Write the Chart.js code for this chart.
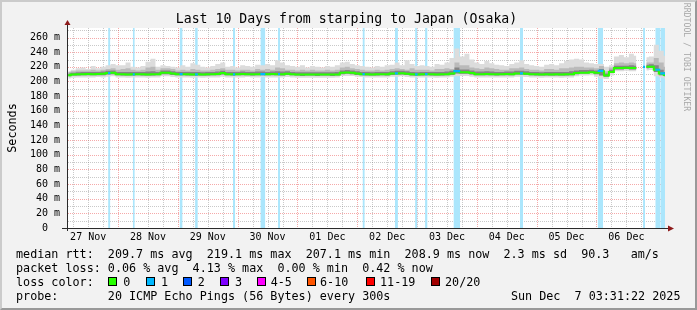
<!DOCTYPE html>
<html>
<head>
<meta charset="utf-8">
<script src="https://cdn.jsdelivr.net/npm/chart.js@4/dist/chart.umd.min.js"></script>
<style>
html,body{margin:0;padding:0;background:#f2f2f2;width:697px;height:310px;overflow:hidden;}
#frame{position:absolute;left:0;top:0;width:697px;height:310px;box-sizing:border-box;background:#f2f2f2;
  border-top:2px solid #cbcbcb;border-left:2px solid #cbcbcb;border-bottom:2px solid #999;border-right:2px solid #999;}
#c{position:absolute;left:0;top:0;}
.t{position:absolute;font-family:'DejaVu Sans Mono',monospace;white-space:pre;color:#000;font-size:11.74px;line-height:14px;}
.sw{position:absolute;width:7px;height:7px;border:1px solid #000;top:277px;}
</style>
</head>
<body>
<div id="frame"></div>
<canvas id="c" width="697" height="310"></canvas>

<div class="t" style="left:0;width:693px;text-align:center;top:10.7px;font-size:13.2px;line-height:16px;">Last 10 Days from starping to Japan (Osaka)</div>
<div class="t" style="left:-18px;top:121px;width:60px;text-align:center;transform:rotate(-90deg);">Seconds</div>
<div class="t" style="left:632px;top:52px;width:110px;text-align:center;font-size:8.2px;line-height:10px;color:#a8a8a8;transform:rotate(90deg);">RRDTOOL / TOBI OETIKER</div>

<div class="t" style="left:16px;top:246.5px;">median rtt:  209.7 ms avg  219.1 ms max  207.1 ms min  208.9 ms now  2.3 ms sd  90.3   am/s</div>
<div class="t" style="left:16px;top:260.7px;">packet loss: 0.06 % avg  4.13 % max  0.00 % min  0.42 % now</div>
<div class="t" style="left:16px;top:274.9px;">loss color:</div>
<div id="legend"></div>
<div class="t" style="left:16px;top:289.1px;">probe:       20 ICMP Echo Pings (56 Bytes) every 300s</div>
<div class="t" style="right:16.5px;top:289.1px;">Sun Dec  7 03:31:22 2025</div>

<script>
// ---- data (values in ms) ----
const dayLabels = ['27 Nov','28 Nov','29 Nov','30 Nov','01 Dec','02 Dec','03 Dec','04 Dec','05 Dec','06 Dec'];
const sampleStartHour = 4;   // hours after 27 Nov 00:00
const sampleStepHours = 2;

const median = [
 208.5,209.5,209.8,210,210.2,210,210.2,210.4,211.5,212,
 210,209.8,209.6,209.8,210,209.8,209.6,209.8,210,212,
 212,211,210,210,209.8,209.6,209.8,209.6,209.8,210,
 210.2,211.5,210,209.8,210,210.2,210,209.8,210,210.2,
 210,210.2,210,209.8,210.5,210,209.5,209.4,209.6,209.5,
 209.4,209.6,209.5,209.4,209.6,212,212.2,212,211,210,
 209.8,209.6,209.8,210,209.8,211,211,211.2,210.5,209.8,
 209.6,209.8,210,209.8,209.6,209.8,210,211,214,212.5,
 212.5,211.5,210,210,210.2,210,209.8,210,210.2,210,
 211,211,210.5,210,209.8,209.6,209.8,209.6,209.8,209.6,
 209.8,210,211.5,212,212,212.5,212,214,208,213,
 218.4,218.4,218.6,218.4,218.4,null,220,220.2,216,211,209];

const smokeMax = [
 214,216,218,219,217,221,218,220,222,224,
 222,222,226,220,219,221,227,231,220,222,
 221,220,219,222,220,225,223,220,219,221,
 224,226,220,221,219,222,221,220,223,222,
 224,222,229,226,222,221,220,222,219,221,
 220,219,221,220,222,226,227,224,222,221,
 220,219,221,220,222,223,226,222,229,224,
 221,222,221,220,224,223,226,232,245,234,
 238,230,226,224,228,225,223,222,221,224,
 226,229,224,222,221,220,223,224,222,225,
 228,230,231,230,226,225,224,224,220,222,
 234,236,233,238,235,null,233,234,250,242,235];

const smokeP90 = [
 213,214,215,215,215,216,215,216,217,218,
 216,217,218,216,215,216,219,220,216,218,
 218,217,215,216,215,217,216,215,215,216,
 217,218,216,216,215,216,216,215,217,216,
 217,216,219,218,216,216,215,216,215,216,
 215,215,216,215,216,219,220,218,217,216,
 215,215,216,215,216,217,218,217,216,218,
 216,216,216,215,217,217,218,217,226,222,
 222,219,218,217,219,218,217,216,216,218,
 218,219,217,216,216,215,217,217,216,218,
 218,219,220,220,219,219,218,221,214,219,
 225,226,225,226,225,null,226,226,232,226,220];

const smokeQ3 = [
 211,212,212.5,213,213,213,213,213.5,214.5,215,
 213,213,213,213,213,213,213.5,214,213,215,
 215,214,213,213,213,213,213,212.5,213,213,
 213.5,214.5,213,213,213,213.5,213,213,213.5,213.5,
 213,213.5,214,213.5,214,213,212.5,212.5,212.5,212.5,
 212.5,212.5,212.5,212.5,213,215,215.5,215,214,213,
 213,212.5,213,213,213,214,214.5,214.5,214,213,
 212.5,213,213,213,213,213,213.5,214.5,219,216.5,
 216.5,215,213.5,213.5,214,213.5,213,213,213.5,213.5,
 214.5,214.5,214,213,213,212.5,213,213,213,213,
 213,214,215,215.5,215.5,216,215,217,211,216,
 221.5,221.5,221.5,222,221.5,null,223,223.5,222,216,213];

const smokeQ1 = [
 207,208,208,208.5,208.5,208.5,208.5,208.5,209.5,210,
 208.5,208,208,208,208.5,208,208,208,208.5,210,
 210,209,208.5,208.5,208,208,208,208,208,208.5,
 208.5,209.5,208.5,208,208.5,208.5,208.5,208,208.5,208.5,
 208.5,208.5,208.5,208,209,208.5,208,207.5,208,208,
 207.5,208,208,207.5,208,210,210.5,210,209,208.5,
 208,208,208,208.5,208,209,209.5,209.5,209,208,
 208,208,208.5,208,208,208,208.5,209,211,210.5,
 210.5,209.5,208.5,208.5,208.5,208.5,208,208.5,208.5,208.5,
 209.5,209.5,209,208.5,208,208,208,208,208,208,
 208,208.5,210,211,211,211.5,210,208,206.5,212,
 216.5,216.5,217,216.5,216.5,null,218,218.5,213,208.5,207];

const smokeMin = [
 204,205,205.5,205.5,205.5,205.5,206,205.5,206.5,207,
 205.5,205.5,205,205.5,205.5,205.5,205,205.5,205.5,207,
 207,206,205.5,205.5,205.5,205,205.5,205,205.5,205.5,
 205.5,206.5,205.5,205.5,205.5,205.5,206,205.5,205.5,206,
 205.5,205.5,205.5,205.5,206,205.5,205,205,205,205,
 205,205,205,205,205.5,207.5,207.5,207.5,206.5,206,
 205.5,205.5,205.5,205.5,205.5,206.5,206.5,207,206,205.5,
 205.5,205.5,205.5,205.5,205,205.5,205.5,206.5,207,207.5,
 207.5,206.5,205.5,205.5,205.5,205.5,205.5,205.5,205.5,205.5,
 206.5,206.5,206,205.5,205.5,205,205.5,205.5,205.5,205,
 205.5,205.5,207,208,208,208.5,206.5,204,203.5,208,
 214,214,214.5,214,214,null,215,215.5,207,205.5,204];

// periods with 1/20 packet loss (hours after 27 Nov 00:00) and the median during them
const lossStart  = [20.0, 29.9, 48.7, 54.9, 70.1, 81.1, 88.2, 122.1, 135.1, 143.2, 147.2, 158.6, 185.3, 216.5, 234.7, 239.6, 241.6];
const lossEnd    = [20.9, 30.7, 49.9, 56.0, 71.0, 83.1, 89.0, 123.0, 136.3, 144.2, 148.2, 161.3, 186.5, 218.7, 235.5, 241.6, 243.5];
const lossMedian = [211.5,209.8,210, 209.6,209.8,210, 210, 210, 211, 209.8,210, 214, 211, 214.5,220, 216, 211];

const lossLegend = [
  ['0','#26ff00'],['1','#00b8ff'],['2','#0059ff'],['3','#7e00ff'],
  ['4-5','#ff00ff'],['6-10','#ff5500'],['11-19','#ff0000'],['20/20','#a10000']];

// ---- scale settings ----
const xMin = 3.5, xMax = 243.5, yMax = 273;

// ---- legend swatches (layout only) ----
const swX = [108, 145.5, 182.5, 220, 256.5, 306.5, 366, 430.5];
const lblX = [123.3, 161, 197.7, 235, 270.7, 320, 380, 445];
const leg = document.getElementById('legend');
lossLegend.forEach(([lbl, col], k) => {
  const b = document.createElement('div');
  b.className = 'sw'; b.style.left = swX[k] + 'px'; b.style.background = col;
  leg.appendChild(b);
  const t = document.createElement('div');
  t.className = 't'; t.style.left = lblX[k] + 'px'; t.style.top = '274.9px'; t.textContent = lbl;
  leg.appendChild(t);
});

// ---- build datasets ----
const hours = median.map((_, i) => sampleStartHour + i * sampleStepHours);
const pts = arr => arr.map((v, i) => ({x: hours[i], y: v}));
const lossBarPts = [], lossLinePts = [];
lossStart.forEach((s, k) => {
  lossBarPts.push({x: s, y: yMax}, {x: lossEnd[k], y: yMax}, {x: lossEnd[k], y: null});
  lossLinePts.push({x: s, y: lossMedian[k]}, {x: lossEnd[k], y: lossMedian[k]}, {x: lossEnd[k], y: null});
});

const common = {pointRadius: 0, borderWidth: 0, tension: 0, spanGaps: false};
const datasets = [
  Object.assign({}, common, {label: 'loss1 median', data: lossLinePts, borderColor: '#00b8ff', borderWidth: 2.2, fill: false, order: 0}),
  Object.assign({}, common, {label: 'median', data: pts(median), borderColor: '#26ff00', borderWidth: 2, stepped: 'middle', fill: false, order: 1}),
  Object.assign({}, common, {label: 'q3', data: pts(smokeQ3), stepped: 'middle', borderColor: 'rgba(0,0,0,0)', backgroundColor: '#858585', fill: 3, order: 2}),
  Object.assign({}, common, {label: 'q1', data: pts(smokeQ1), stepped: 'middle', borderColor: 'rgba(0,0,0,0)', fill: false, order: 3}),
  Object.assign({}, common, {label: 'p90', data: pts(smokeP90), stepped: 'middle', borderColor: 'rgba(0,0,0,0)', backgroundColor: '#bababa', fill: 3, order: 4}),
  Object.assign({}, common, {label: 'max', data: pts(smokeMax), stepped: 'middle', borderColor: 'rgba(0,0,0,0)', backgroundColor: '#dcdcdc', fill: 6, order: 5}),
  Object.assign({}, common, {label: 'min', data: pts(smokeMin), stepped: 'middle', borderColor: 'rgba(0,0,0,0)', fill: false, order: 6}),
  Object.assign({}, common, {label: 'loss bg', data: lossBarPts, borderColor: 'rgba(0,0,0,0)', backgroundColor: '#abe6fc', fill: 'start', order: 7})
];

const noPad = s => { s.paddingTop = 0; s.paddingBottom = 0; s.paddingLeft = 0; s.paddingRight = 0; };

const rrdPlugin = {
  id: 'rrd',
  beforeDatasetsDraw(chart) {
    const {ctx, chartArea: a, scales: {x, y}} = chart;
    ctx.save();
    ctx.fillStyle = '#ffffff';
    ctx.fillRect(a.left, a.top, a.right - a.left, a.bottom - a.top);
    ctx.lineWidth = 1;
    ctx.setLineDash([1, 1]);
    const minor = 'rgba(120,120,120,0.4)', major = 'rgba(230,40,40,0.4)';
    for (let v = 10; v <= yMax; v += 10) {
      const py = Math.round(y.getPixelForValue(v)) + 0.5;
      ctx.strokeStyle = v % 20 ? minor : major;
      ctx.beginPath(); ctx.moveTo(a.left + 1, py); ctx.lineTo(a.right, py); ctx.stroke();
    }
    for (let h = 6; h <= xMax; h += 6) {
      if (h < xMin) continue;
      const px = Math.round(x.getPixelForValue(h)) + 0.5;
      ctx.strokeStyle = h % 24 ? minor : major;
      ctx.beginPath(); ctx.moveTo(px, a.top); ctx.lineTo(px, a.bottom); ctx.stroke();
    }
    ctx.restore();
  },
  afterDatasetsDraw(chart) {
    const {ctx, chartArea: a} = chart;
    ctx.save();
    ctx.lineWidth = 1;
    ctx.strokeStyle = '#2a2a2a';
    const ax = Math.round(a.left) + 0.5, ay = Math.round(a.bottom) + 0.5;
    ctx.beginPath(); ctx.moveTo(a.left - 5, ay); ctx.lineTo(a.right + 3, ay); ctx.stroke();
    ctx.beginPath(); ctx.moveTo(ax, a.bottom + 3); ctx.lineTo(ax, a.top - 4); ctx.stroke();
    ctx.fillStyle = '#8e1b1b';
    ctx.beginPath(); ctx.moveTo(a.right + 3, ay - 3); ctx.lineTo(a.right + 9, ay); ctx.lineTo(a.right + 3, ay + 3); ctx.closePath(); ctx.fill();
    ctx.beginPath(); ctx.moveTo(ax - 3, a.top - 3); ctx.lineTo(ax, a.top - 8); ctx.lineTo(ax + 3, a.top - 3); ctx.closePath(); ctx.fill();
    ctx.restore();
  }
};

Chart.defaults.font.family = "'DejaVu Sans Mono', monospace";

new Chart(document.getElementById('c'), {
  type: 'line',
  data: {datasets},
  options: {
    responsive: false,
    animation: false,
    devicePixelRatio: 1,
    layout: {padding: {top: 28, right: 32, left: 0, bottom: 0}},
    plugins: {legend: {display: false}, tooltip: {enabled: false}},
    scales: {
      x: {
        type: 'linear', min: xMin, max: xMax,
        grid: {display: false, drawTicks: false},
        border: {display: false},
        afterBuildTicks: s => { s.ticks = dayLabels.map((_, k) => ({value: 12 + 24 * k})); },
        afterFit: s => { s.height = 82; noPad(s); },
        ticks: {
          autoSkip: false, maxRotation: 0, minRotation: 0, padding: 3,
          color: '#000', font: {size: 10},
          callback: (v, i) => dayLabels[i]
        }
      },
      y: {
        type: 'linear', min: 0, max: yMax,
        grid: {display: false, drawTicks: false},
        border: {display: false},
        afterFit: s => { s.width = 67; noPad(s); },
        ticks: {
          stepSize: 20, includeBounds: false, padding: 7,
          color: '#000', font: {size: 10},
          callback: v => (v === 0 ? '0  ' : v + ' m')
        }
      }
    }
  },
  plugins: [rrdPlugin]
});
</script>
</body>
</html>
